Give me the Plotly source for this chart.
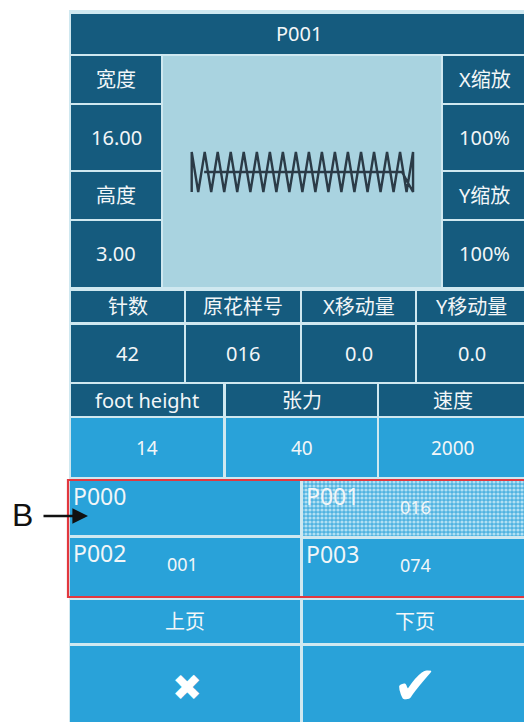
import plotly.graph_objects as go

W, H = 524, 722

# ---------------- data ----------------
title_text = "P001"
left_labels = ["宽度", "16.00", "高度", "3.00"]
right_labels = ["X缩放", "100%", "Y缩放", "100%"]
row1_labels = ["针数", "原花样号", "X移动量", "Y移动量"]
row1_values = ["42", "016", "0.0", "0.0"]
row2_labels = ["foot height", "张力", "速度"]
row2_values = ["14", "40", "2000"]
pattern_names = ["P000", "P001", "P002", "P003"]
pattern_codes = ["", "016", "001", "074"]
page_buttons = ["上页", "下页"]
action_icons = ["✖", "✔"]
callout_label = "B"

# stitch path of the preview (mm)
stitch_x = [0.0, 0.0, 0.47, 0.94, 1.41, 1.88, 2.35, 2.82, 3.29, 3.76, 4.24, 4.71,
            5.18, 5.65, 6.12, 6.59, 7.06, 7.53, 8.0, 8.47, 8.94, 9.41, 9.88, 10.35,
            10.82, 11.29, 11.76, 12.24, 12.71, 13.18, 13.65, 14.12, 14.59, 15.06,
            15.53, 16.0, 16.0, 15.2, 0.9]
stitch_y = [-1.5, 1.5, -1.5, 1.5, -1.5, 1.5, -1.5, 1.5, -1.5, 1.5, -1.5, 1.5,
            -1.5, 1.5, -1.5, 1.5, -1.5, 1.5, -1.5, 1.5, -1.5, 1.5, -1.5, 1.5,
            -1.5, 1.5, -1.5, 1.5, -1.5, 1.5, -1.5, 1.5, -1.5, 1.5,
            -1.5, 1.5, -1.5, 0.0, 0.0]

# ---------------- style ----------------
DARK = "#155b7e"
LIGHT = "#29a2d9"
PREVIEW = "#a9d3e0"
GAP = "#cfe8f0"
RED = "#e2383f"
FONT = "Noto Sans, Noto Sans CJK SC, sans-serif"
TXT = "#f2f6f8"


def X(px):
    return px / W


def Y(py):
    return 1 - py / H


shapes = []
annotations = []


def cell(x0, x1, y0, y1, color, text=None, size=20, color_t=TXT):
    shapes.append(dict(type="rect", xref="paper", yref="paper",
                       x0=X(x0), x1=X(x1), y0=Y(y1), y1=Y(y0),
                       fillcolor=color, line=dict(width=0), layer="below"))
    if text:
        annotations.append(dict(x=X((x0 + x1) / 2), y=Y((y0 + y1) / 2),
                                xref="paper", yref="paper", text=text, showarrow=False,
                                font=dict(family=FONT, size=size, color=color_t),
                                xanchor="center", yanchor="middle"))


def label(px, py, text, size=20, anchor="left", color=TXT, family=FONT):
    annotations.append(dict(x=X(px), y=Y(py), xref="paper", yref="paper", text=text,
                            showarrow=False, font=dict(family=family, size=size, color=color),
                            xanchor=anchor, yanchor="middle"))


# panel background
cell(69, W + 2, 10, H + 2, GAP)

# title
cell(71, W + 2, 14, 54, DARK, title_text)

# left / right columns
rows = [(56, 103), (105, 170), (172, 219), (221, 287)]
for (y0, y1), t in zip(rows, left_labels):
    cell(71, 161, y0, y1, DARK, t)
for (y0, y1), t in zip(rows, right_labels):
    cell(443, W + 2, y0, y1, DARK, t)

# preview background
cell(163, 441, 56, 287, PREVIEW)

# row 1
cols4 = [(71, 184), (186, 300), (302, 415), (417, W + 2)]
for (x0, x1), t in zip(cols4, row1_labels):
    cell(x0, x1, 291, 322, DARK, t)
for (x0, x1), t in zip(cols4, row1_values):
    cell(x0, x1, 325, 382, DARK, t)

# row 2
cols3 = [(71, 223), (226, 377), (379, W + 2)]
for (x0, x1), t in zip(cols3, row2_labels):
    cell(x0, x1, 384, 416, DARK, t)
for (x0, x1), t in zip(cols3, row2_values):
    cell(x0, x1, 418, 477, LIGHT, t, size=19)

# pattern buttons
pcells = [(70, 300, 481, 535), (303, W + 2, 481, 536), (70, 300, 538, 596), (303, W + 2, 539, 596)]
for i, ((x0, x1, y0, y1), name, code) in enumerate(zip(pcells, pattern_names, pattern_codes)):
    if i != 1:
        cell(x0, x1, y0, y1, LIGHT)
    label(x0 + 1, y0 + 15, name, size=23)
    if code:
        label(x0 + 112, y0 + 26, code, size=18, anchor="center")

# page buttons
cell(70, 300, 600, 643, LIGHT, page_buttons[0])
cell(303, W + 2, 600, 643, LIGHT, page_buttons[1])

# action buttons
cell(70, 300, 646, H + 2, LIGHT)
cell(303, W + 2, 646, H + 2, LIGHT)
label(187, 687, action_icons[0], size=36, anchor="center", color="white", family="DejaVu Sans")
label(415, 685, action_icons[1], size=53, anchor="center", color="white", family="DejaVu Sans")

# red selection frame
shapes.append(dict(type="rect", xref="paper", yref="paper",
                   x0=X(68), x1=X(W + 5), y0=Y(597), y1=Y(480),
                   line=dict(color=RED, width=2.2), fillcolor="rgba(0,0,0,0)", layer="above"))

# callout "B" with arrow
label(22, 515, callout_label, size=32, anchor="center", color="#111111",
      family="Liberation Sans, Arial, sans-serif")
annotations.append(dict(x=X(88), y=Y(516), xref="paper", yref="paper", text="",
                        showarrow=True, ax=-46, ay=0, axref="pixel", ayref="pixel",
                        arrowhead=2, arrowsize=1.3, arrowwidth=2.4, arrowcolor="#111111"))

fig = go.Figure()

# stitch preview
fig.add_trace(go.Scatter(x=stitch_x, y=stitch_y, mode="lines",
                         line=dict(color="#2b3b47", width=2.4), xaxis="x", yaxis="y",
                         hoverinfo="skip", showlegend=False))

# checkered (selected) cell
fig.add_trace(go.Scatter(x=[303, 526, 526, 303, 303], y=[481, 481, 536, 536, 481],
                         mode="lines", fill="toself", line=dict(width=0),
                         fillcolor="#5bbbe6",
                         fillpattern=dict(shape=".", bgcolor="#4fb3e1", fgcolor="#b2e0f3",
                                          size=4, solidity=0.5, fillmode="replace"),
                         xaxis="x2", yaxis="y2", hoverinfo="skip", showlegend=False))

fig.update_layout(
    width=W, height=H, margin=dict(l=0, r=0, t=0, b=0),
    paper_bgcolor="white", plot_bgcolor="rgba(0,0,0,0)",
    xaxis=dict(domain=[X(163), X(441)], range=[-2.075, 18.02], visible=False,
               anchor="y", fixedrange=True),
    yaxis=dict(domain=[Y(287), Y(56)], range=[-8.63, 8.7], visible=False,
               anchor="x", fixedrange=True),
    xaxis2=dict(domain=[0, 1], range=[0, W], visible=False, anchor="y2", fixedrange=True),
    yaxis2=dict(domain=[0, 1], range=[H, 0], visible=False, anchor="x2", fixedrange=True),
    shapes=shapes, annotations=annotations, showlegend=False,
)

fig.write_html("out.html", config={"displayModeBar": False},
               post_script="document.body.style.margin='0';document.body.style.overflow='hidden';")
